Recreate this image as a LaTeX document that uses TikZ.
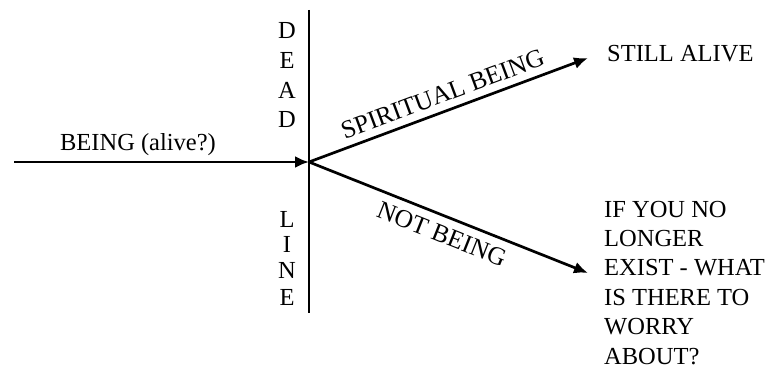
\documentclass[tikz,border=0pt]{standalone}
\usepackage{fontspec}
\setmainfont{Liberation Serif}
\usetikzlibrary{arrows.meta}
\begin{document}
\begin{tikzpicture}[x=1pt,y=-1pt,
  lbl/.style={font=\fontsize{24.5}{29.4}\selectfont, inner sep=0pt},
  slbl/.style={font=\fontsize{25.5}{30}\selectfont, inner sep=0pt},
  arr/.style={line width=2.7pt,-{Latex[length=14pt,width=12pt]}},
  ln/.style={line width=2.7pt}]
\useasboundingbox (0,0) rectangle (773,369);
\coordinate (start) at (14,162);
\coordinate (mid) at (309,162);
\coordinate (top) at (309,10);
\coordinate (bot) at (309,313);
\coordinate (up) at (588,58);
\coordinate (down) at (588,273);
\draw[ln] (top) -- (bot);
\draw[arr] (start) -- (mid);
\draw[arr] (mid) -- node[slbl, sloped, above=7pt, pos=0.5] (sb) {SPIRITUAL BEING} (up);
\draw[arr] (mid) -- node[slbl, sloped, below=8pt, pos=0.5] (nb) {NOT BEING} (down);
\node[lbl, anchor=base] (being) at (138,150) {BEING (alive?)};
\node[lbl, anchor=base west] (still) at (607,62) {STILL ALIVE};
\node[lbl, anchor=base west, align=left] (ifyou) at (604,364)
  {IF YOU NO\\LONGER\\EXIST - WHAT\\IS THERE TO\\WORRY\\ABOUT?};
\node[lbl, anchor=base] (d1) at (287,38) {D};
\node[lbl, anchor=base] (e1) at (287,68) {E};
\node[lbl, anchor=base] (a1) at (287,98) {A};
\node[lbl, anchor=base] (d2) at (287,127) {D};
\node[lbl, anchor=base] (l1) at (287,227) {L};
\node[lbl, anchor=base] (i1) at (287,252) {I};
\node[lbl, anchor=base] (n1) at (287,278) {N};
\node[lbl, anchor=base] (e2) at (287,305) {E};
\end{tikzpicture}
\end{document}
